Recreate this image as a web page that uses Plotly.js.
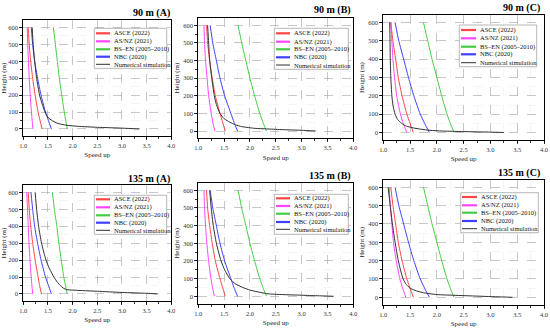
<!DOCTYPE html>
<html><head><meta charset="utf-8">
<script src="https://cdn.plot.ly/plotly-3.0.1.min.js"></script>
<style>html,body{margin:0;padding:0;background:#fff}#chart{width:550px;height:332px}</style>
</head><body><div id="chart"></div>
<script>
// ---------------- DATA ----------------
const panelTitles = ["90 m (A)", "90 m (B)", "90 m (C)", "135 m (A)", "135 m (B)", "135 m (C)"];
const seriesNames = ["ASCE (2022)", "AS/NZ (2021)", "BS\u2013EN (2005\u20132010)", "NBC (2020)", "Numerical simulation"];
const codeHeights = [600, 500, 400, 300, 200, 100, 50, 0];

// 90 m (A)
const asce_90A = [1.10, 1.12, 1.15, 1.19, 1.24, 1.30, 1.34, 1.38];
const asnz_90A = [1.08, 1.09, 1.105, 1.12, 1.14, 1.165, 1.18, 1.195];
const bsen_90A = [1.61, 1.65, 1.69, 1.73, 1.78, 1.83, 1.86, 1.89];
const nbc_90A  = [1.16, 1.19, 1.23, 1.29, 1.36, 1.45, 1.51, 1.57];
const simH_90A = [600, 500, 400, 300, 200, 150, 100, 65, 35, 22, 16, 10, 5, 0];
const simX_90A = [1.18, 1.20, 1.23, 1.27, 1.33, 1.38, 1.44, 1.51, 1.68, 1.88, 2.1, 2.5, 3.0, 3.35];

// 90 m (B)
const asce_90B = [1.16, 1.18, 1.22, 1.27, 1.33, 1.42, 1.47, 1.52];
const asnz_90B = [1.11, 1.12, 1.14, 1.17, 1.20, 1.25, 1.28, 1.32];
const bsen_90B = [1.77, 1.84, 1.92, 2.00, 2.09, 2.19, 2.25, 2.32];
const nbc_90B  = [1.23, 1.28, 1.35, 1.42, 1.51, 1.63, 1.69, 1.76];
const simH_90B = [600, 500, 400, 300, 200, 150, 100, 70, 50, 35, 25, 15, 12, 8, 4, 0];
const simX_90B = [1.18, 1.20, 1.22, 1.26, 1.31, 1.35, 1.42, 1.50, 1.61, 1.72, 1.84, 2.1, 2.32, 2.6, 3.0, 3.27];

// 90 m (C)
const asce_90C = [1.14, 1.18, 1.23, 1.28, 1.35, 1.44, 1.50, 1.56];
const asnz_90C = [1.14, 1.16, 1.18, 1.21, 1.25, 1.32, 1.37, 1.44];
const bsen_90C = [1.75, 1.83, 1.91, 2.00, 2.09, 2.19, 2.25, 2.32];
const nbc_90C  = [1.22, 1.29, 1.38, 1.47, 1.57, 1.69, 1.77, 1.86];
const simH_90C = [600, 500, 400, 300, 200, 150, 100, 70, 50, 35, 25, 18, 12, 8, 5, 2, 0];
const simX_90C = [1.12, 1.125, 1.13, 1.14, 1.16, 1.18, 1.22, 1.27, 1.34, 1.43, 1.56, 1.7, 1.87, 2.1, 2.5, 3.0, 3.25];

// 135 m (A)
const asce_135A = [1.10, 1.12, 1.15, 1.19, 1.24, 1.30, 1.33, 1.37];
const asnz_135A = [1.07, 1.085, 1.10, 1.115, 1.135, 1.16, 1.175, 1.19];
const bsen_135A = [1.59, 1.63, 1.68, 1.72, 1.77, 1.82, 1.855, 1.89];
const nbc_135A  = [1.155, 1.19, 1.23, 1.29, 1.36, 1.45, 1.51, 1.57];
const simH_135A = [600, 500, 400, 300, 200, 150, 100, 70, 50, 35, 26, 20, 16, 9, 4, 0];
const simX_135A = [1.24, 1.27, 1.31, 1.37, 1.46, 1.53, 1.62, 1.69, 1.75, 1.81, 1.88, 2.2, 2.5, 3.0, 3.5, 3.72];

// 135 m (B)
const asce_135B = [1.16, 1.18, 1.22, 1.27, 1.33, 1.42, 1.47, 1.52];
const asnz_135B = [1.11, 1.12, 1.14, 1.165, 1.20, 1.245, 1.275, 1.31];
const bsen_135B = [1.77, 1.84, 1.92, 2.00, 2.09, 2.19, 2.25, 2.32];
const nbc_135B  = [1.23, 1.28, 1.35, 1.42, 1.51, 1.63, 1.69, 1.76];
const simH_135B = [600, 500, 400, 300, 200, 150, 100, 70, 50, 35, 22, 14, 10, 6, 3, 0];
const simX_135B = [1.22, 1.25, 1.29, 1.35, 1.44, 1.51, 1.61, 1.72, 1.86, 2.0, 2.2, 2.35, 2.6, 3.0, 3.3, 3.62];

// 135 m (C)
const asce_135C = [1.14, 1.18, 1.23, 1.28, 1.35, 1.44, 1.50, 1.56];
const asnz_135C = [1.11, 1.13, 1.16, 1.19, 1.24, 1.31, 1.36, 1.42];
const bsen_135C = [1.75, 1.83, 1.91, 2.00, 2.09, 2.19, 2.25, 2.32];
const nbc_135C  = [1.22, 1.29, 1.38, 1.47, 1.57, 1.69, 1.77, 1.86];
const simH_135C = [600, 500, 400, 300, 200, 150, 100, 70, 50, 35, 25, 15, 11, 7, 3, 0];
const simX_135C = [1.09, 1.13, 1.17, 1.22, 1.28, 1.32, 1.37, 1.43, 1.50, 1.62, 1.75, 2.0, 2.32, 2.7, 3.1, 3.41];

const xTickVals = [1.0, 1.5, 2.0, 2.5, 3.0, 3.5, 4.0];
const xTickText = ["1.0", "1.5", "2.0", "2.5", "3.0", "3.5", "4.0"];
const yTickVals = [0, 100, 200, 300, 400, 500, 600];

// ---------------- STYLE / LAYOUT ----------------
const colors = ["#ff4444", "#ff44ff", "#44cc44", "#3f3fff", "#303030"];
const panels = [
  {code: [asce_90A, asnz_90A, bsen_90A, nbc_90A], sx: simX_90A, sh: simH_90A},
  {code: [asce_90B, asnz_90B, bsen_90B, nbc_90B], sx: simX_90B, sh: simH_90B},
  {code: [asce_90C, asnz_90C, bsen_90C, nbc_90C], sx: simX_90C, sh: simH_90C},
  {code: [asce_135A, asnz_135A, bsen_135A, nbc_135A], sx: simX_135A, sh: simH_135A},
  {code: [asce_135B, asnz_135B, bsen_135B, nbc_135B], sx: simX_135B, sh: simH_135B},
  {code: [asce_135C, asnz_135C, bsen_135C, nbc_135C], sx: simX_135C, sh: simH_135C}
];
// pixel boxes of plot areas [left, right, top, bottom]
const boxes = [
  [23.3, 171.3, 20.3, 136.1],
  [198.3, 353.3, 17.9, 138.4],
  [383.3, 544, 14.8, 140.2],
  [23.3, 171.3, 185.2, 301.1],
  [198.3, 353.3, 182.9, 303.7],
  [383.3, 544, 179.6, 305]
];
const titlePos = [[172, 13.3], [353, 10], [542, 8], [172, 178.7], [353, 176], [542, 173]];
// legend geometry: box [l, r, t, b], line x1, x2, text x, entry ys
const legends = [
  {box: [94.3, 166.7, 28.3, 68.3], lx: [96, 110], tx: 111.7, ys: [33.3, 41.3, 49.3, 56.7, 64.3]},
  {box: [274.3, 348.3, 28.3, 69.3], lx: [276, 290], tx: 291.7, ys: [33.3, 41.7, 49.3, 57.3, 65]},
  {box: [459.3, 536.7, 25, 66.7], lx: [461, 476], tx: 477.7, ys: [30, 38.3, 46.7, 54.3, 62.7]},
  {box: [94.3, 166.7, 195.3, 234.3], lx: [96, 110], tx: 111.7, ys: [199.3, 207.3, 215.3, 222.7, 230.3]},
  {box: [274.3, 348.3, 194.3, 234.3], lx: [276, 290], tx: 291.7, ys: [198.3, 206, 213.7, 222, 229.3]},
  {box: [460.7, 538.3, 192.7, 232.7], lx: [462, 477], tx: 478.7, ys: [197, 205.3, 212.7, 221, 228.7]}
];

const W = 550, H = 332;
const fx = v => v / W;
const fy = v => 1 - v / H;
const FONT = "Liberation Serif, Times New Roman, serif";

const traces = [];
const layout = {
  width: W, height: H,
  margin: {l: 0, r: 0, t: 0, b: 0},
  paper_bgcolor: "#ffffff", plot_bgcolor: "#ffffff",
  showlegend: false,
  font: {family: FONT, size: 7, color: "#222"},
  annotations: [], shapes: []
};

panels.forEach((p, i) => {
  const n = i + 1;
  const xa = n === 1 ? "x" : "x" + n;
  const ya = n === 1 ? "y" : "y" + n;
  p.code.forEach((vals, k) => {
    traces.push({
      type: "scatter", mode: "lines", name: seriesNames[k],
      x: vals, y: codeHeights, xaxis: xa, yaxis: ya,
      line: {color: colors[k], width: 1, shape: "spline", smoothing: 0.6},
      showlegend: false, hoverinfo: "skip"
    });
  });
  traces.push({
    type: "scatter", mode: "lines", name: seriesNames[4],
    x: p.sx, y: p.sh, xaxis: xa, yaxis: ya,
    line: {color: colors[4], width: 1, shape: "spline", smoothing: 0.6},
    showlegend: false, hoverinfo: "skip"
  });

  const b = boxes[i];
  const axCommon = {
    showline: true, mirror: true, linecolor: "#000", linewidth: 1,
    ticks: "outside", ticklen: 3, tickwidth: 0.8, tickcolor: "#000",
    tickfont: {family: FONT, size: 6.5, color: "#333"},
    showgrid: true, gridcolor: "#a8a8a8", griddash: "dash", gridwidth: 0.6,
    zeroline: false, automargin: false, fixedrange: true
  };
  layout["xaxis" + (n === 1 ? "" : n)] = Object.assign({}, axCommon, {
    domain: [fx(b[0]), fx(b[1])], anchor: ya, range: [1, 4],
    tickmode: "array", tickvals: xTickVals, ticktext: xTickText,
    minor: {dtick: 0.25, tick0: 1, ticks: "outside", ticklen: 2, tickcolor: "#000", showgrid: true, gridcolor: "#ececec", gridwidth: 0.5},
    title: {text: "Speed up", font: {family: FONT, size: 7, color: "#222"}, standoff: 4}
  });
  layout["yaxis" + (n === 1 ? "" : n)] = Object.assign({}, axCommon, {
    domain: [fy(b[3]), fy(b[2])], anchor: xa, range: [-42, 642],
    tickmode: "array", tickvals: yTickVals,
    minor: {dtick: 50, tick0: 0, ticks: "outside", ticklen: 2, tickcolor: "#000", showgrid: true, gridcolor: "#ececec", gridwidth: 0.5},
    title: {text: "Height (m)", font: {family: FONT, size: 7, color: "#222"}, standoff: 2}
  });

  // panel title
  layout.annotations.push({
    xref: "paper", yref: "paper", x: fx(titlePos[i][0]), y: fy(titlePos[i][1]),
    xanchor: "right", yanchor: "middle", showarrow: false,
    text: "<b>" + panelTitles[i] + "</b>",
    font: {family: FONT, size: 10, color: "#000"}
  });

  // legend
  const L = legends[i];
  layout.shapes.push({
    type: "rect", xref: "paper", yref: "paper",
    x0: fx(L.box[0]), x1: fx(L.box[1]), y0: fy(L.box[3]), y1: fy(L.box[2]),
    line: {color: "#999", width: 0.7}, fillcolor: "#ffffff", layer: "above"
  });
  seriesNames.forEach((nm, k) => {
    layout.shapes.push({
      type: "line", xref: "paper", yref: "paper",
      x0: fx(L.lx[0]), x1: fx(L.lx[1]), y0: fy(L.ys[k]), y1: fy(L.ys[k]),
      line: {color: colors[k], width: k === 4 ? 1 : 2.2}, layer: "above"
    });
    layout.annotations.push({
      xref: "paper", yref: "paper", x: fx(L.tx), y: fy(L.ys[k]),
      xanchor: "left", yanchor: "middle", showarrow: false,
      text: nm, font: {family: FONT, size: 6.5, color: "#111"}
    });
  });
});

Plotly.newPlot("chart", traces, layout, {staticPlot: true, displayModeBar: false});
</script>
</body></html>
